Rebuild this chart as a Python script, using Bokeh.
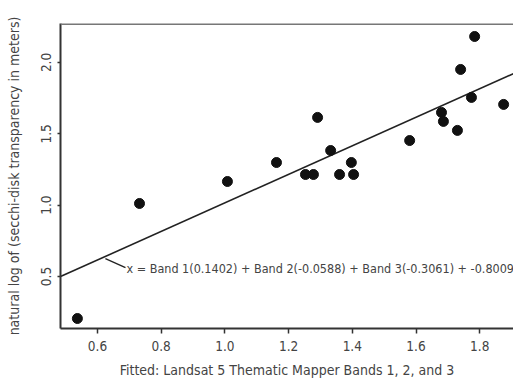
from bokeh.plotting import figure
from bokeh.models import Range1d, FixedTicker, Span, Label, PrintfTickFormatter
from bokeh.embed import file_html
from bokeh.resources import INLINE

fitted = [0.537, 0.732, 1.008, 1.162, 1.253, 1.278, 1.291, 1.332, 1.360, 1.397,
          1.404, 1.580, 1.680, 1.686, 1.730, 1.740, 1.774, 1.784, 1.875]
observed = [0.206, 1.012, 1.166, 1.299, 1.215, 1.215, 1.615, 1.383, 1.215, 1.299,
            1.215, 1.453, 1.650, 1.587, 1.524, 1.951, 1.755, 2.182, 1.706]

# Regression line end points
line_x = [0.484, 1.906]
line_y = [0.500, 1.922]

x_ticks = [0.6, 0.8, 1.0, 1.2, 1.4, 1.6, 1.8]
y_ticks = [0.5, 1.0, 1.5, 2.0]

equation = "x = Band 1(0.1402) + Band 2(-0.0588) + Band 3(-0.3061) + -0.8009"
x_title = "Fitted: Landsat 5 Thematic Mapper Bands 1, 2, and 3"
y_title = "natural log of (secchi-disk transparency in meters)"

FONT = "DejaVu Sans Condensed"
TXT = "#444444"

X0, X1 = 0.484, 1.906
Y0, Y1 = 0.136, 2.273

p = figure(width=513, height=380, output_backend="svg", toolbar_location=None,
           x_range=Range1d(X0, X1), y_range=Range1d(Y0, Y1),
           min_border_left=60, min_border_right=0, min_border_top=23,
           min_border_bottom=52)
p.outline_line_color = None
p.grid.visible = False
p.background_fill_color = "white"
p.border_fill_color = "white"

for ax in (p.xaxis[0], p.yaxis[0]):
    ax.axis_line_color = "#333333"
    ax.axis_line_width = 2
    ax.major_tick_line_color = "#333333"
    ax.major_tick_line_width = 1.5
    ax.major_tick_in = 0
    ax.minor_tick_line_color = None
    ax.formatter = PrintfTickFormatter(format="%.1f")
    ax.major_label_text_font = FONT
    ax.major_label_text_color = TXT
    ax.major_label_text_font_size = "13.5px"
    ax.axis_label_text_font = FONT
    ax.axis_label_text_color = TXT
    ax.axis_label_text_font_style = "normal"
    ax.axis_label_text_font_size = "14px"

p.xaxis.ticker = FixedTicker(ticks=x_ticks)
p.yaxis.ticker = FixedTicker(ticks=y_ticks)
p.xaxis.major_tick_out = 5
p.yaxis.major_tick_out = 3
p.xaxis.major_label_standoff = 7
p.yaxis.major_label_standoff = 6
p.yaxis.major_label_orientation = "vertical"
p.xaxis.axis_label = x_title
p.yaxis.axis_label = y_title
p.xaxis.axis_label_standoff = 8
p.yaxis.axis_label_standoff = 17

top = Span(location=Y1, dimension="width", line_color="#777777", line_width=3)
p.add_layout(top)

p.line(line_x, line_y, line_color="#222222", line_width=1.6)
p.scatter(fitted, observed, size=10, fill_color="#111111", line_color="#111111")

# leader from the line to the equation
p.line([0.625, 0.688], [0.626, 0.563], line_color="#222222", line_width=1.3)
p.add_layout(Label(x=0.691, y=0.556, text=equation, text_font=FONT,
                   text_font_size="12.5px", text_color=TXT, text_baseline="middle"))

open("out.html", "w").write(file_html(p, INLINE))
